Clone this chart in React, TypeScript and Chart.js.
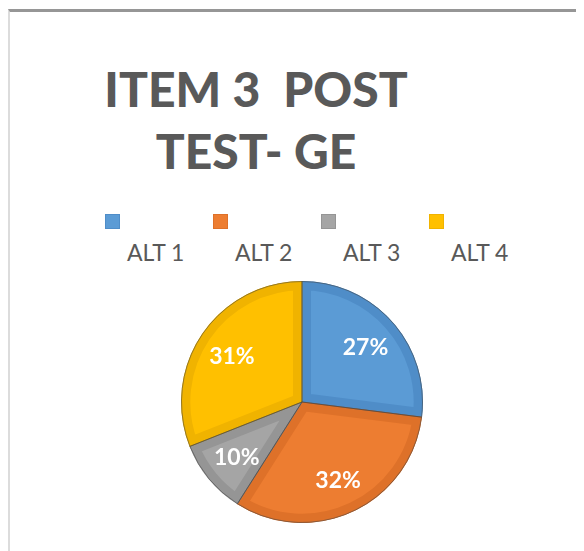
import React, { useEffect, useRef } from "react";
import { Chart, registerables } from "chart.js";

Chart.register(...registerables);

const titleLines = ["ITEM 3  POST", "TEST- GE"];
const categories = ["ALT 1", "ALT 2", "ALT 3", "ALT 4"];
const values = [27, 32, 10, 31];
const fillColors = ["#5B9BD5", "#ED7D31", "#A5A5A5", "#FFC000"];
const bandColors = ["#4F8DC8", "#DE7129", "#959595", "#F0B300"];

const pctLabels = {
  id: "pctLabels",
  afterDatasetsDraw(chart: any) {
    const ctx = chart.ctx;
    const meta = chart.getDatasetMeta(0);
    const data = chart.data.datasets[0].data as number[];
    const total = data.reduce((a, b) => a + b, 0);
    ctx.save();
    ctx.strokeStyle = "rgba(70,70,70,0.55)";
    ctx.lineWidth = 1;
    meta.data.forEach((arc: any) => {
      const p = arc.getProps(["x", "y", "startAngle", "endAngle", "outerRadius"], true);
      ctx.beginPath();
      ctx.moveTo(p.x, p.y);
      ctx.arc(p.x, p.y, p.outerRadius - 0.5, p.startAngle, p.endAngle);
      ctx.closePath();
      ctx.stroke();
    });
    ctx.font = "bold 23px Lato";
    ctx.fillStyle = "#ffffff";
    ctx.textAlign = "center";
    ctx.textBaseline = "middle";
    meta.data.forEach((arc: any, i: number) => {
      const p = arc.getProps(["x", "y", "startAngle", "endAngle", "outerRadius"], true);
      const mid = (p.startAngle + p.endAngle) / 2;
      const r = p.outerRadius * 0.7;
      const txt = Math.round((data[i] / total) * 100) + "%";
      ctx.fillText(txt, p.x + Math.cos(mid) * r, p.y + Math.sin(mid) * r + 2);
    });
    ctx.restore();
  },
};

export default function App() {
  const ref = useRef<HTMLCanvasElement | null>(null);
  useEffect(() => {
    if (!ref.current) return;
    const chart = new Chart(ref.current, {
      type: "pie",
      data: {
        labels: categories,
        datasets: [
          {
            data: values,
            backgroundColor: fillColors,
            borderColor: bandColors,
            borderWidth: 9,
            borderAlign: "inner",
          } as any,
        ],
      },
      options: {
        responsive: false,
        animation: false,
        layout: { padding: 0 },
        plugins: {
          legend: { display: false },
          title: { display: false },
          tooltip: { enabled: false },
        },
      },
      plugins: [pctLabels],
    });
    return () => chart.destroy();
  }, []);

  return (
    <div
      style={{
        position: "relative",
        marginTop: 1,
        width: 574,
        height: 539,
        borderTop: "3px solid #969696",
        borderLeft: "2px solid #dcdcdc",
        background: "#ffffff",
        fontFamily: "Lato, sans-serif",
        overflow: "hidden",
      }}
    >
      <div
        style={{
          position: "absolute",
          left: 0,
          top: 46,
          width: 492,
          textAlign: "center",
          fontWeight: 900,
          fontSize: 48,
          lineHeight: "62px",
          color: "#595959",
          whiteSpace: "pre",
        }}
      >
        {titleLines.map((t, i) => (
          <div key={i}>{t}</div>
        ))}
      </div>
      {categories.map((c, i) => (
        <div key={c} style={{ position: "absolute", left: 95 + i * 108, top: 202 }}>
          <div
            style={{
              width: 13,
              height: 13,
              background: fillColors[i],
              border: `1px solid ${bandColors[i]}`,
            }}
          />
          <div
            style={{
              position: "absolute",
              left: 22,
              top: 27,
              fontSize: 23,
              lineHeight: "23px",
              color: "#595959",
              whiteSpace: "nowrap",
            }}
          >
            {c}
          </div>
        </div>
      ))}
      <canvas
        ref={ref}
        width={242}
        height={242}
        style={{ position: "absolute", left: 171, top: 269, width: 242, height: 242 }}
      />
    </div>
  );
}
